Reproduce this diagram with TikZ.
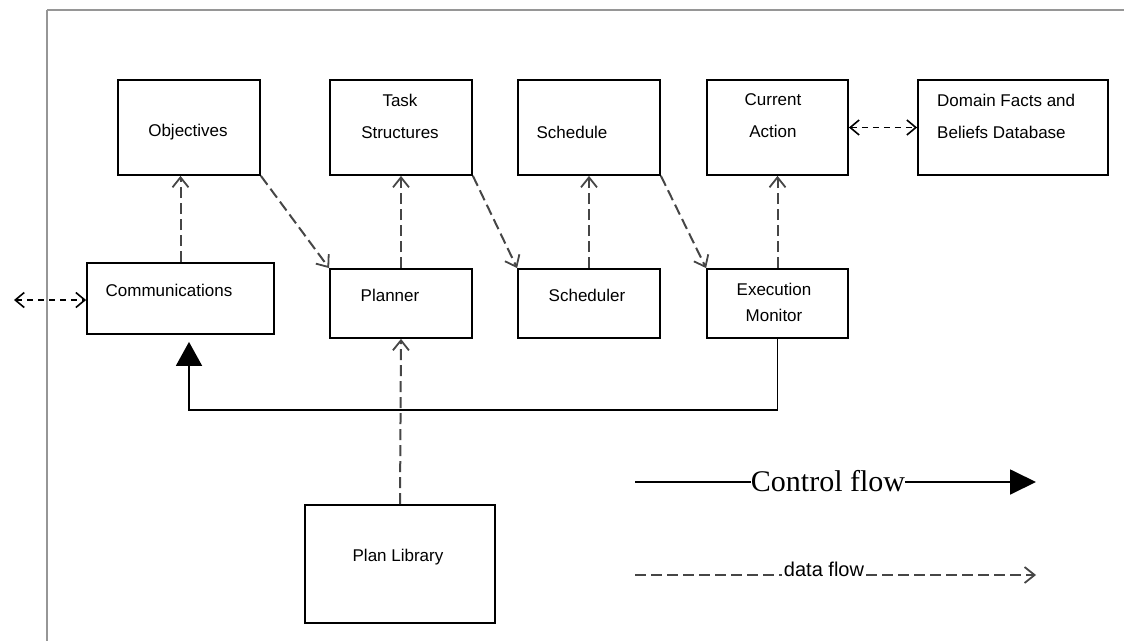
\documentclass[tikz,border=0pt]{standalone}
\usepackage{fontspec}
\setmainfont{Liberation Sans}
\newfontfamily\legendfont{Liberation Serif}
\usetikzlibrary{arrows.meta}

\definecolor{framegray}{RGB}{150,150,150}
\definecolor{flowgray}{RGB}{70,70,70}

\begin{document}
\begin{tikzpicture}[x=1pt,y=-1pt,
  box/.style={draw,line width=1.8pt,inner sep=0pt,minimum width=142pt,minimum height=95pt},
  txt/.style={inner sep=0pt,align=center,font=\fontsize{17}{32}\selectfont},
  dataflow/.style={flowgray,line width=2pt,dash pattern=on 11pt off 5pt,-{Straight Barb[length=10pt,width=16pt,line width=1.8pt]}},
  bothway/.style={line width=1.6pt,dash pattern=on 6pt off 5pt,{Straight Barb[length=9pt,width=15pt,line width=1.6pt]}-{Straight Barb[length=9pt,width=15pt,line width=1.6pt]}},
  ctrlflow/.style={line width=1.8pt,-{Triangle[length=24pt,width=26pt]}}]

\useasboundingbox (0,0) rectangle (1124,640);

\draw[framegray,line width=1.8pt] (47,10) -- (1130,10) ;
\draw[framegray,line width=1.8pt] (47,10) -- (47,650) ;

% upper row
\node[box] (obj) at (189,127.5) {};
\node[box] (task) at (401,127.5) {};
\node[box] (sched) at (589,127.5) {};
\node[box,minimum width=141pt] (curr) at (777.5,127.5) {};
\node[box,minimum width=190pt] (dom) at (1013,127.5) {};

\node[txt] (obj-t) at (188,132) {Objectives};
\node[txt] (task-t) at (400,116) {Task\\Structures};
\node[txt] (sched-t) at (572,132) {Schedule};
\node[txt] (curr-t) at (773,116) {Current\\Action};
\node[txt,align=left,anchor=west] (dom-t) at (937,116) {Domain Facts and\\Beliefs Database};

% lower row
\node[box,minimum width=187pt,minimum height=71pt] (comm) at (180.5,298.5) {};
\node[box,minimum height=69pt] (plan) at (401,303.5) {};
\node[box,minimum height=69pt] (schr) at (589,303.5) {};
\node[box,minimum width=141pt,minimum height=69pt] (exec) at (777.5,303.5) {};
\node[box,minimum width=190pt,minimum height=118pt] (lib) at (400,564) {};

\node[txt] (comm-t) at (169,290) {Communications};
\node[txt] (plan-t) at (390,295) {Planner};
\node[txt] (schr-t) at (587,295) {Scheduler};
\node[txt,font=\fontsize{17}{26}\selectfont] (exec-t) at (774,302) {Execution\\Monitor};
\node[txt] (lib-t) at (398,557) {Plan Library};

% data flow
\draw[dataflow] (comm.north) -- (comm.north |- obj.south) ;
\draw[dataflow] (obj.south east) -- (plan.north west) ;
\draw[dataflow] (plan.north) -- (task.south) ;
\draw[dataflow] (task.south east) -- (schr.north west) ;
\draw[dataflow] (schr.north) -- (sched.south) ;
\draw[dataflow] (sched.south east) -- (exec.north west) ;
\draw[dataflow] (exec.north) -- (curr.south) ;
\draw[dataflow] (lib.north) -- (plan.south) ;

\coordinate (ext) at (14,300) ;
\draw[bothway] (ext) -- (ext -| comm.west) ;
\draw[bothway] (curr.east) -- (dom.west) ;

% control flow
\coordinate (bend) at (189,410) ;
\draw[ctrlflow,shorten >=7pt] (exec.south) |- (bend) -- (bend |- comm.south) ;

% legend
\coordinate (cf-a) at (635,482) ;
\coordinate (cf-b) at (1036,482) ;
\node[inner sep=0pt,font=\legendfont\fontsize{30}{30}\selectfont] (cf-t) at (828,481) {Control flow};
\draw[line width=1.8pt] (cf-a) -- (cf-a -| cf-t.west) ;
\draw[ctrlflow,-{Triangle[length=26pt,width=25pt]}] (cf-t.east |- cf-a) -- (cf-b) ;

\coordinate (df-a) at (635,575) ;
\coordinate (df-b) at (1036,575) ;
\node[inner sep=2pt,font=\fontsize{20}{20}\selectfont] (df-t) at (824,569) {data flow};
\draw[dataflow,-] (df-a) -- (df-a -| df-t.west) ;
\draw[dataflow] (df-t.east |- df-a) -- (df-b) ;

\end{tikzpicture}
\end{document}
